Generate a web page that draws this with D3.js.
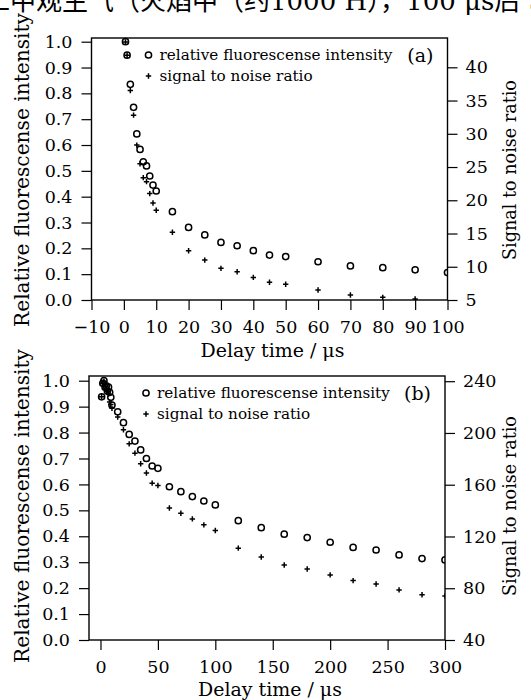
<!DOCTYPE html>
<html>
<head>
<meta charset="utf-8">
<script src="https://cdn.jsdelivr.net/npm/d3@7"></script>
<style>
    body { margin: 0; background: #fff; }
    svg { display: block; }
    text { font-family: "DejaVu Serif", serif; fill: #000; }
</style>
</head>
<body>
<div class="chart"></div>
<script>
"use strict";

// ----------------------------------------
//  Data
// ----------------------------------------

// panel (a): delay time (us), relative intensity (left axis), SNR (right axis)
let time_a = [0.5, 1, 2, 3, 4, 5, 6, 7, 8, 9, 10, 15, 20, 25, 30, 35, 40, 45, 50, 60, 70, 80, 90, 100];
let fluo_a = [1.0, 0.948, 0.835, 0.746, 0.643, 0.583, 0.535, 0.519, 0.48, 0.445, 0.422, 0.342, 0.281,
              0.252, 0.223, 0.21, 0.191, 0.174, 0.168, 0.148, 0.132, 0.125, 0.117, 0.106];
let snr_time_a = [0.5, 1, 2, 3, 4, 5, 6, 7, 8, 9, 10, 15, 20, 25, 30, 35, 40, 45, 50, 60, 70, 80, 90];
let snr_a = [43.8, 41.8, 36.5, 32.8, 28.3, 25.5, 23.4, 22.8, 21.0, 19.6, 18.5, 15.2, 12.4,
             11.0, 9.76, 9.25, 8.4, 7.66, 7.36, 6.5, 5.75, 5.4, 5.15];

// panel (b)
let time_b = [1, 2, 3, 4, 5, 6, 7, 8, 9, 10, 15, 20, 25, 30, 35, 40, 45, 50, 60, 70, 80, 90, 100,
              120, 140, 160, 180, 200, 220, 240, 260, 280, 300];
let fluo_b = [0.938, 0.99, 1.0, 0.975, 0.98, 0.96, 0.975, 0.955, 0.936, 0.906, 0.88, 0.838, 0.793,
              0.767, 0.733, 0.70, 0.671, 0.662, 0.591, 0.572, 0.553, 0.536, 0.521,
              0.46, 0.433, 0.408, 0.395, 0.377, 0.357, 0.347, 0.328, 0.314, 0.309];
let snr_time_b = time_b;
let snr_b = [228, 238, 240, 236, 234, 232, 230, 224, 222, 219, 212.3, 202.5, 191.6,
             184.4, 176.2, 169, 161.2, 159.4, 142, 138, 133.6, 129, 124.6,
             111, 104.2, 98.0, 94.9, 90.3, 85.9, 83.3, 78.7, 75.0, 74.0];

// tick values
let left_ticks = d3.range(0, 11).map(function(d) { return d / 10; });
let x_ticks_a = d3.range(-10, 101, 10);
let x_ticks_b = d3.range(0, 301, 50);
let right_ticks_a = d3.range(5, 41, 5);
let right_ticks_b = d3.range(40, 241, 40);

// texts
let header_text = "工中观生气（火焰中（约1000 H），100 μs后 SH）";
let legend_labels = ["relative fluorescense intensity", "signal to noise ratio"];
let x_title = "Delay time / μs";
let y_left_title = "Relative fluorescense intensity";
let y_right_title = "Signal to noise ratio";

// ----------------------------------------
//  Appearance settings
// ----------------------------------------
let page_w = 531, page_h = 700;
let tick_len = 10;
let circle_r = 3.1;
let plus_half = 2.7;
let mark_stroke = 1.5;
let tick_font = "17.5px";

let svg = d3.select(".chart")
    .append("svg")
    .attr("width", page_w)
    .attr("height", page_h);

// scale a text's font so its drawn length matches the figure
function fit_text(sel, target) {
    let len = sel.node().getComputedTextLength();
    let fs = parseFloat(sel.style("font-size"));
    sel.style("font-size", (fs * target / len).toFixed(2) + "px");
    return fs * target / len;
}

// clipped caption line from the page above the figure
svg.append("text")
    .attr("x", -16)
    .attr("y", 10)
    .style("font-family", "'DejaVu Serif', 'Noto Sans CJK SC', serif")
    .style("font-size", "26px")
    .text(header_text);

let panels = [
    {
        id: "a", label: "(a)",
        times: time_a, fluo: fluo_a, snr_times: snr_time_a, snr: snr_a,
        x_domain: [-10, 100], x_ticks: x_ticks_a,
        r_domain: [5, 40], r_ticks: right_ticks_a,
        left: 91.5, right: 447.5, top: 38, bottom: 300,
        y_one: 41.7, r_top: 67.3, x_title_y: 357, y_mid: 170
    },
    {
        id: "b", label: "(b)",
        times: time_b, fluo: fluo_b, snr_times: snr_time_b, snr: snr_b,
        x_domain: [-10, 300], x_ticks: x_ticks_b,
        r_domain: [40, 240], r_ticks: right_ticks_b,
        left: 89, right: 445, top: 376, bottom: 640,
        y_one: 380.7, r_top: 381.2, x_title_y: 696, y_mid: 506
    }
];

function plus_path(s) {
    return "M" + (-s) + ",0H" + s + "M0," + (-s) + "V" + s;
}

panels.forEach(function(p) {
    let g = svg.append("g").attr("class", "panel_" + p.id);

    let x_scale = d3.scaleLinear().domain(p.x_domain).range([p.left, p.right]);
    let y_scale = d3.scaleLinear().domain([0, 1]).range([p.bottom, p.y_one]);
    let r_scale = d3.scaleLinear().domain(p.r_domain).range([p.bottom, p.r_top]);

    // axes, with the frame drawn separately
    let x_axis = g.append("g")
        .attr("transform", "translate(0," + p.bottom + ")")
        .call(d3.axisBottom(x_scale).tickValues(p.x_ticks).tickFormat(d3.format("d"))
            .tickSize(tick_len).tickPadding(11));
    let y_axis = g.append("g")
        .attr("transform", "translate(" + p.left + ",0)")
        .call(d3.axisLeft(y_scale).tickValues(left_ticks).tickFormat(d3.format(".1f"))
            .tickSize(tick_len).tickPadding(9));
    let r_axis = g.append("g")
        .attr("transform", "translate(" + p.right + ",0)")
        .call(d3.axisRight(r_scale).tickValues(p.r_ticks)
            .tickSize(tick_len).tickPadding(8));

    [x_axis, y_axis, r_axis].forEach(function(a) {
        a.select(".domain").remove();
        a.selectAll(".tick line").attr("stroke", "#000").attr("stroke-width", 1.2);
        a.selectAll(".tick text")
            .style("font-family", "'DejaVu Serif', serif")
            .style("font-size", tick_font)
            .attr("fill", "#000");
    });

    g.append("rect")
        .attr("x", p.left)
        .attr("y", p.top)
        .attr("width", p.right - p.left)
        .attr("height", p.bottom - p.top)
        .attr("fill", "none")
        .attr("stroke", "#000")
        .attr("stroke-width", 1.4);

    // markers are cut at the frame, as in the figure
    g.append("clipPath")
        .attr("id", "clip_" + p.id)
        .append("rect")
        .attr("x", p.left)
        .attr("y", p.top - 4)
        .attr("width", p.right - p.left)
        .attr("height", p.bottom - p.top + 4);

    let marks = g.append("g").attr("clip-path", "url(#clip_" + p.id + ")");

    marks.selectAll(".dot")
        .data(p.times)
        .enter()
        .append("circle")
        .attr("class", "dot")
        .attr("cx", function(d) { return x_scale(d); })
        .attr("cy", function(d, i) { return y_scale(p.fluo[i]); })
        .attr("r", circle_r)
        .attr("fill", "none")
        .attr("stroke", "#000")
        .attr("stroke-width", mark_stroke);

    marks.selectAll(".plus")
        .data(p.snr_times)
        .enter()
        .append("path")
        .attr("class", "plus")
        .attr("transform", function(d, i) {
            return "translate(" + x_scale(d) + "," + r_scale(p.snr[i]) + ")";
        })
        .attr("d", plus_path(plus_half))
        .attr("stroke", "#000")
        .attr("stroke-width", mark_stroke);

    // legend
    let lx = p.left + 57, ly = p.top + 17;
    g.append("circle")
        .attr("cx", lx).attr("cy", ly).attr("r", circle_r)
        .attr("fill", "none").attr("stroke", "#000").attr("stroke-width", mark_stroke);
    g.append("path")
        .attr("transform", "translate(" + lx + "," + (ly + 21) + ")")
        .attr("d", plus_path(plus_half))
        .attr("stroke", "#000").attr("stroke-width", mark_stroke);
    let leg = legend_labels.map(function(t, i) {
        return g.append("text")
            .attr("x", lx + 11)
            .attr("y", ly + 5 + i * 21)
            .style("font-size", "15px")
            .text(t);
    });
    let leg_size = fit_text(leg[0], 233);
    leg[1].style("font-size", leg_size.toFixed(2) + "px");

    // panel tag
    g.append("text")
        .attr("x", p.right - 14)
        .attr("y", p.top + 24)
        .attr("text-anchor", "end")
        .style("font-size", "19px")
        .text(p.label);

    // axis titles
    let xt = g.append("text")
        .attr("x", (p.left + p.right) / 2 + 3)
        .attr("y", p.x_title_y)
        .attr("text-anchor", "middle")
        .style("font-size", "18px")
        .text(x_title);
    fit_text(xt, 144);

    let yl = g.append("text")
        .attr("transform", "translate(29," + p.y_mid + ") rotate(-90)")
        .attr("text-anchor", "middle")
        .style("font-size", "20px")
        .text(y_left_title);
    fit_text(yl, 314);

    let yr = g.append("text")
        .attr("transform", "translate(516," + p.y_mid + ") rotate(-90)")
        .attr("text-anchor", "middle")
        .style("font-size", "18px")
        .text(y_right_title);
    fit_text(yr, 180);
});
</script>
</body>
</html>
